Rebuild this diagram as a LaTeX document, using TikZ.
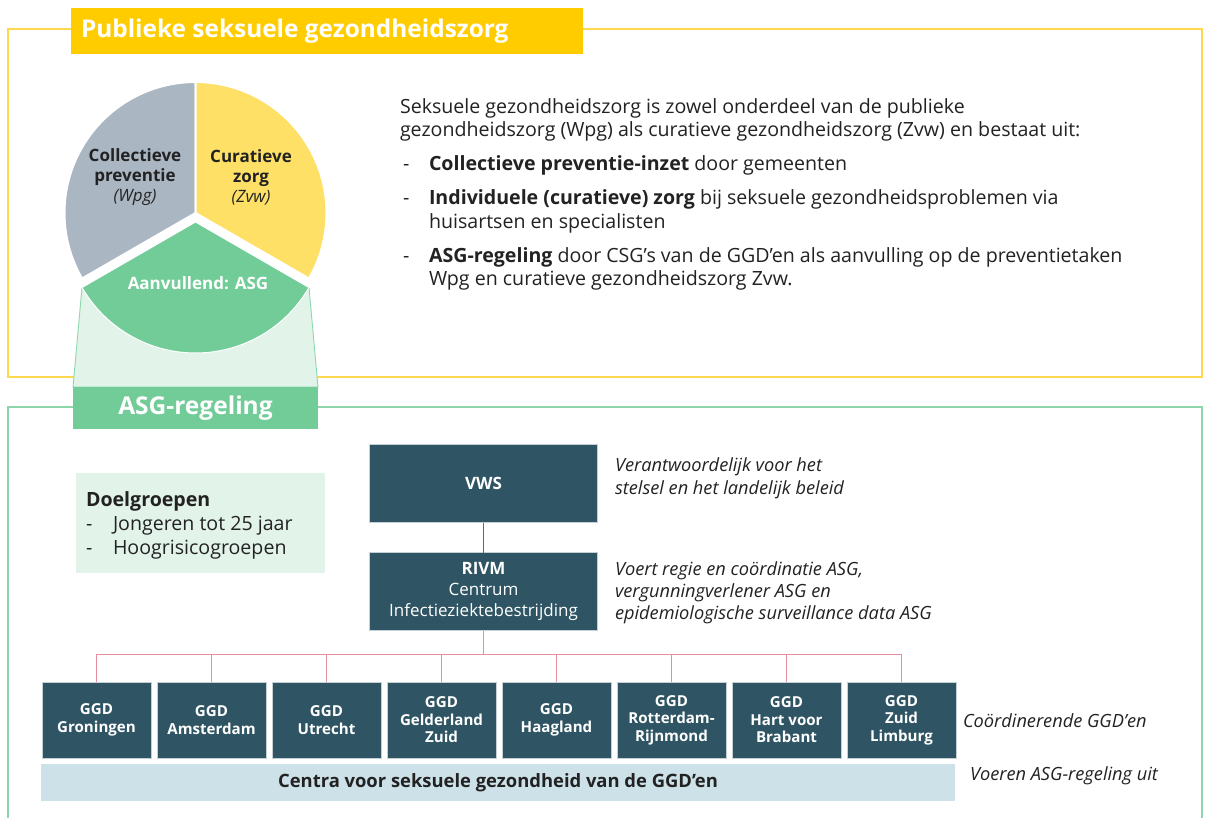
\documentclass[tikz,border=0pt]{standalone}
\usepackage{fontspec}
\setmainfont{Open Sans}
\usetikzlibrary{calc}
\definecolor{gold}{HTML}{FFCC00}
\definecolor{yframe}{HTML}{FFD84F}
\definecolor{gframe}{HTML}{8ED7AD}
\definecolor{pgray}{HTML}{AAB6C2}
\definecolor{pyellow}{HTML}{FFE066}
\definecolor{pgreen}{HTML}{72CC98}
\definecolor{lgreen}{HTML}{E2F4EA}
\definecolor{teal}{HTML}{2F5564}
\definecolor{tealb}{HTML}{C5D0D5}
\definecolor{centra}{HTML}{CDE1E8}
\definecolor{treecol}{HTML}{E68DA1}
\definecolor{vwscol}{HTML}{C8385C}
\definecolor{txt}{HTML}{222222}
\begin{document}
\begin{tikzpicture}[x=1pt,y=-1pt,
  every node/.style={inner sep=0pt, outer sep=0pt},
  body/.style={anchor=base west, text=txt, font=\fontsize{19.6}{23}\selectfont},
  desc/.style={anchor=base west, text=txt, font=\fontsize{18.2}{22}\selectfont\itshape},
  orgbox/.style={anchor=north west, fill=teal, draw=tealb, line width=0.6pt, text=white,
     minimum width=228pt, minimum height=78pt, align=center, font=\fontsize{17}{21}\selectfont},
  ggdbox/.style={anchor=north west, fill=teal, draw=tealb, line width=0.6pt, text=white,
     minimum width=109pt, minimum height=76pt, align=center, font=\fontsize{15.1}{17.5}\selectfont\bfseries},
  tree/.style={draw=treecol, line width=1pt},
  pielbl/.style={align=center, text=txt, font=\fontsize{17}{20}\selectfont}
]
\useasboundingbox (0,0) rectangle (1209,818);
\fill[white] (0,0) rectangle (1209,818);

% frames
\draw[yframe, line width=1.3pt] (8,29) rectangle (1202,377);
\draw[gframe, line width=1.3pt] (8,818) -- (8,407) -- (1202,407) -- (1202,818);

% title
\node[anchor=north west, fill=gold, minimum width=512pt, minimum height=46pt] (titlebox) at (71,8) {};
\node[anchor=west, text=white, font=\fontsize{24.4}{28}\selectfont\bfseries] (title) at (81,31) {Publieke seksuele gezondheidszorg};

% trapezoid
\filldraw[fill=lgreen, draw=gframe, line width=0.9pt] (82,287.5) -- (309,287.5) -- (318,387) -- (73,387) -- cycle;

% pie
\filldraw[fill=pgray, draw=white, line width=2pt] (195.5,213) -- plot[domain=150:270,samples=80] ({195.5+131*cos(\x)},{213+131*sin(\x)}) -- cycle;
\filldraw[fill=pyellow, draw=white, line width=2pt] (195.5,213) -- plot[domain=270:390,samples=80] ({195.5+131*cos(\x)},{213+131*sin(\x)}) -- cycle;
\filldraw[fill=pgreen, draw=white, line width=1pt] (195.5,222) -- plot[domain=30:150,samples=80] ({195.5+131*cos(\x)},{222+131*sin(\x)}) -- cycle;

\node[pielbl] (cp) at (135,177) {\textbf{Collectieve}\\\textbf{preventie}\\\textit{(Wpg)}};
\node[pielbl] (cz) at (251,177) {\textbf{Curatieve}\\\textbf{zorg}\\\textit{(Zvw)}};
\node[text=white, font=\fontsize{17}{20}\selectfont\bfseries] (aanv) at (198,283) {Aanvullend: ASG};

% ASG-regeling
\node[anchor=north west, fill=pgreen, minimum width=245pt, minimum height=42pt, text=white,
  font=\fontsize{24.5}{28}\selectfont\bfseries] (asg) at (73,387) {ASG-regeling};

% right text
\node[body] (t1) at (400,114) {Seksuele gezondheidszorg is zowel onderdeel van de publieke};
\node[body] (t2) at (400,137) {gezondheidszorg (Wpg) als curatieve gezondheidszorg (Zvw) en bestaat uit:};
\node[body] (b1) at (403,171) {-};
\node[body] (t3) at (429,171) {\textbf{Collectieve preventie-inzet} door gemeenten};
\node[body] (b2) at (403,205) {-};
\node[body] (t4) at (429,205) {\textbf{Individuele (curatieve) zorg} bij seksuele gezondheidsproblemen via};
\node[body] (t5) at (429,229) {huisartsen en specialisten};
\node[body] (b3) at (403,262) {-};
\node[body] (t6) at (429,262) {\textbf{ASG-regeling} door CSG’s van de GGD’en als aanvulling op de preventietaken};
\node[body] (t7) at (429,285) {Wpg en curatieve gezondheidszorg Zvw.};

% Doelgroepen
\node[anchor=north west, fill=lgreen, minimum width=249pt, minimum height=100pt] (dgbox) at (76,473) {};
\node[body, font=\fontsize{19.6}{23}\selectfont\bfseries] (dg) at (86,506) {Doelgroepen};
\node[body] (dgd1) at (86,530) {-};
\node[body] (dg1) at (113,530) {Jongeren tot 25 jaar};
\node[body] (dgd2) at (86,554) {-};
\node[body] (dg2) at (113,554) {Hoogrisicogroepen};

% org
\node[orgbox] (vws) at (369.5,444.5) {\textbf{VWS}};
\node[orgbox] (rivm) at (369.5,552.5) {\textbf{RIVM}\\Centrum\\Infectieziektebestrijding};
\draw[draw=vwscol, line width=1.2pt] (vws.south) -- (rivm.north);

\node[desc] (d1) at (615,471) {Verantwoordelijk voor het};
\node[desc] (d2) at (615,494) {stelsel en het landelijk beleid};
\node[desc] (d3) at (615,575) {Voert regie en coördinatie ASG,};
\node[desc] (d4) at (615,597) {vergunningverlener ASG en};
\node[desc] (d5) at (615,619) {epidemiologische surveillance data ASG};

\node[ggdbox] (g1) at (42,682) {GGD\\Groningen};
\node[ggdbox] (g2) at (157,682) {GGD\\Amsterdam};
\node[ggdbox] (g3) at (272,682) {GGD\\Utrecht};
\node[ggdbox] (g4) at (387,682) {GGD\\Gelderland\\Zuid};
\node[ggdbox] (g5) at (502,682) {GGD\\Haagland};
\node[ggdbox] (g6) at (617,682) {GGD\\Rotterdam-\\Rijnmond};
\node[ggdbox] (g7) at (732,682) {GGD\\Hart voor\\Brabant};
\node[ggdbox] (g8) at (847,682) {GGD\\Zuid\\Limburg};

\coordinate (hub) at ($(rivm.south)+(0,24)$);
\draw[tree] (rivm.south) -- (hub);
\draw[tree] (g1.north) -- (g1.north |- hub) -- (g8.north |- hub) -- (g8.north);
\foreach \g in {g2,g3,g4,g5,g6,g7} { \draw[tree] (\g.north) -- (\g.north |- hub); }

\node[anchor=north west, fill=centra, minimum width=914pt, minimum height=37pt, text=txt,
  font=\fontsize{18.4}{20}\selectfont\bfseries] (csg) at (41,764) {Centra voor seksuele gezondheid van de GGD’en};

\node[desc, anchor=west] (d6) at (963,721) {Coördinerende GGD’en};
\node[desc, anchor=west] (d7) at (970,776) {Voeren ASG-regeling uit};
\end{tikzpicture}
\end{document}
